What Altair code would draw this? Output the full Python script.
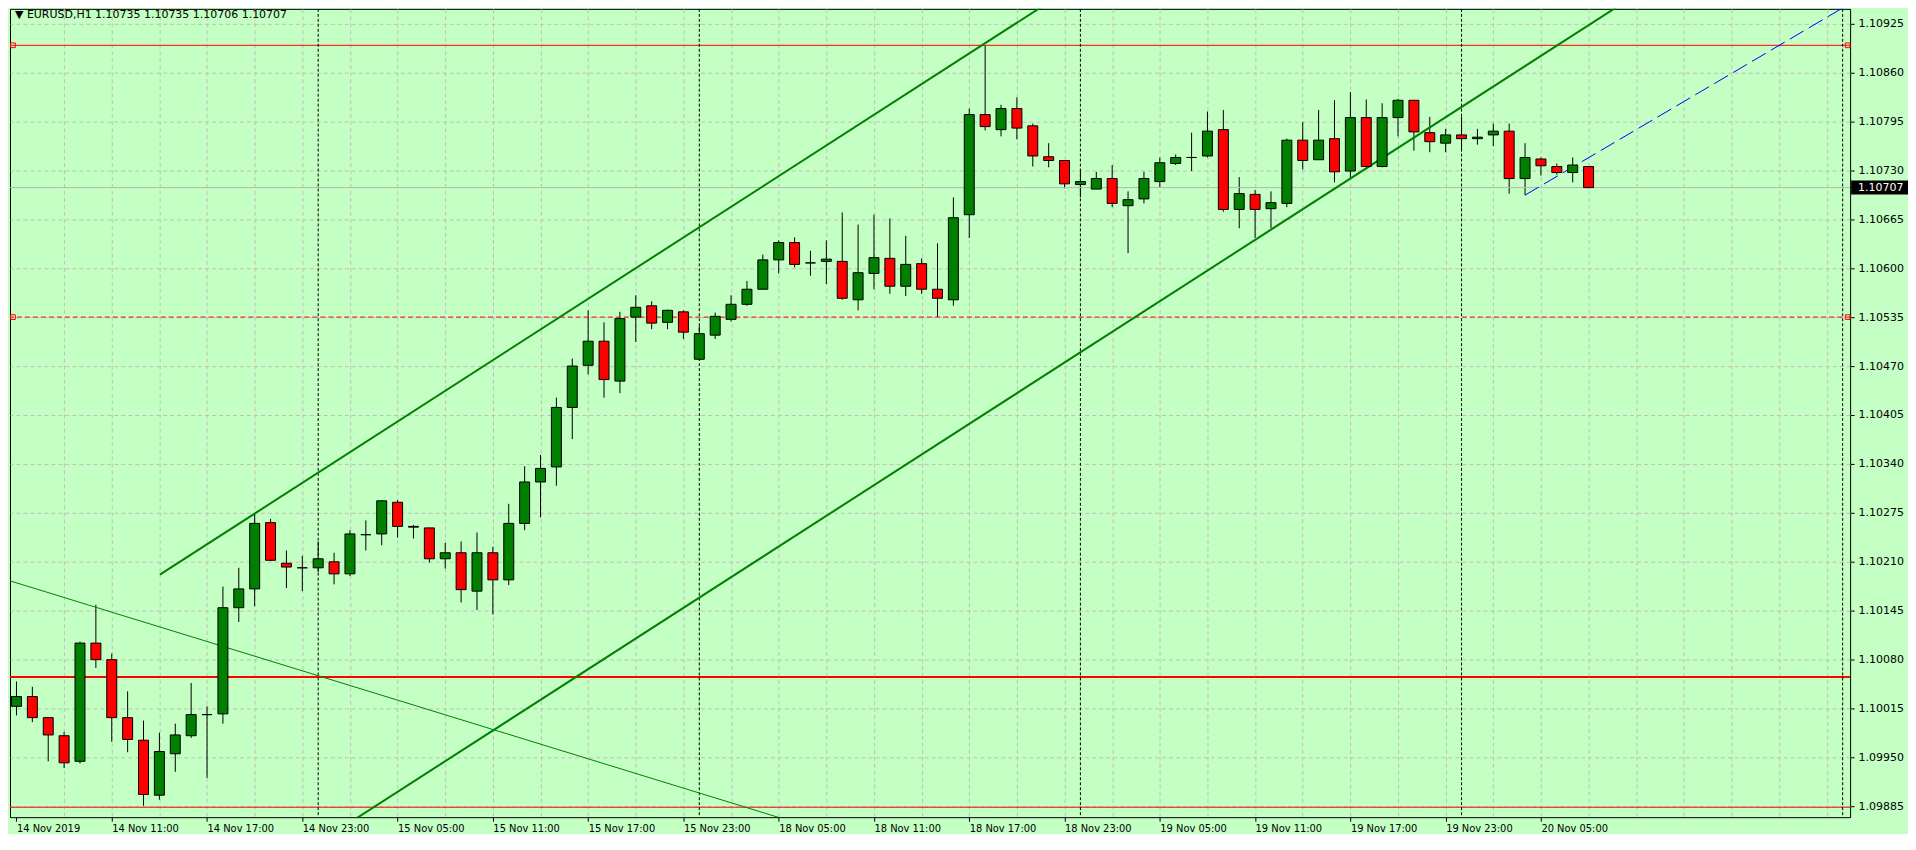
import json
import altair as alt
import pandas as pd

# ---------------- data (EURUSD H1) ----------------
opens = [1.10018, 1.10031, 1.10003, 1.09979, 1.09945, 1.10102, 1.10080, 1.10003, 1.09973, 1.09900,
         1.09955, 1.09979, 1.10007, 1.10008, 1.10149, 1.10174, 1.10262, 1.10208, 1.10202, 1.10202,
         1.10210, 1.10194, 1.10246, 1.10247, 1.10289, 1.10257, 1.10255, 1.10214, 1.10222, 1.10171,
         1.10222, 1.10186, 1.10261, 1.10316, 1.10336, 1.10415, 1.10471, 1.10503, 1.10450, 1.10535,
         1.10550, 1.10528, 1.10542, 1.10479, 1.10511, 1.10532, 1.10552, 1.10572, 1.10611, 1.10634,
         1.10607, 1.10609, 1.10609, 1.10558, 1.10593, 1.10613, 1.10576, 1.10606, 1.10572, 1.10558,
         1.10671, 1.10804, 1.10784, 1.10812, 1.10789, 1.10748, 1.10743, 1.10711, 1.10705, 1.10719,
         1.10683, 1.10692, 1.10715, 1.10739, 1.10747, 1.10749, 1.10784, 1.10678, 1.10698, 1.10679,
         1.10686, 1.10770, 1.10744, 1.10772, 1.10729, 1.10800, 1.10735, 1.10800, 1.10823, 1.10780,
         1.10766, 1.10777, 1.10772, 1.10777, 1.10782, 1.10719, 1.10745, 1.10735, 1.10727, 1.10735]

highs = [1.10051, 1.10044, 1.10004, 1.09984, 1.10104, 1.10153, 1.10088, 1.10038, 1.09999, 1.09983,
         1.09995, 1.10049, 1.10018, 1.10177, 1.10202, 1.10274, 1.10267, 1.10225, 1.10218, 1.10237,
         1.10222, 1.10252, 1.10265, 1.10292, 1.10292, 1.10259, 1.10255, 1.10235, 1.10237, 1.10249,
         1.10230, 1.10287, 1.10337, 1.10352, 1.10428, 1.10480, 1.10544, 1.10528, 1.10542, 1.10564,
         1.10556, 1.10545, 1.10544, 1.10523, 1.10541, 1.10564, 1.10583, 1.10618, 1.10637, 1.10641,
         1.10623, 1.10637, 1.10674, 1.10658, 1.10671, 1.10666, 1.10643, 1.10613, 1.10633, 1.10694,
         1.10812, 1.10896, 1.10817, 1.10827, 1.10792, 1.10766, 1.10743, 1.10729, 1.10728, 1.10737,
         1.10702, 1.10728, 1.10747, 1.10751, 1.10780, 1.10808, 1.10810, 1.10721, 1.10704, 1.10702,
         1.10772, 1.10794, 1.10810, 1.10823, 1.10834, 1.10824, 1.10819, 1.10825, 1.10823, 1.10801,
         1.10785, 1.10801, 1.10785, 1.10792, 1.10792, 1.10766, 1.10747, 1.10739, 1.10747, 1.10735]

lows = [1.10006, 1.09997, 1.09945, 1.09936, 1.09942, 1.10069, 1.09971, 1.09957, 1.09886, 1.09894,
        1.09931, 1.09976, 1.09923, 1.09995, 1.10130, 1.10151, 1.10211, 1.10175, 1.10171, 1.10196,
        1.10180, 1.10191, 1.10225, 1.10232, 1.10242, 1.10241, 1.10209, 1.10201, 1.10156, 1.10146,
        1.10140, 1.10179, 1.10252, 1.10269, 1.10311, 1.10373, 1.10459, 1.10428, 1.10434, 1.10502,
        1.10519, 1.10519, 1.10506, 1.10479, 1.10506, 1.10529, 1.10550, 1.10572, 1.10593, 1.10601,
        1.10590, 1.10579, 1.10558, 1.10544, 1.10572, 1.10566, 1.10563, 1.10566, 1.10535, 1.10550,
        1.10640, 1.10783, 1.10775, 1.10771, 1.10735, 1.10734, 1.10706, 1.10694, 1.10705, 1.10681,
        1.10620, 1.10686, 1.10707, 1.10737, 1.10729, 1.10747, 1.10675, 1.10653, 1.10640, 1.10653,
        1.10681, 1.10731, 1.10744, 1.10714, 1.10720, 1.10735, 1.10734, 1.10775, 1.10756, 1.10754,
        1.10754, 1.10756, 1.10764, 1.10762, 1.10699, 1.10697, 1.10723, 1.10724, 1.10714, 1.10706]

closes = [1.10031, 1.10003, 1.09980, 1.09943, 1.10102, 1.10080, 1.10003, 1.09974, 1.09901, 1.09958,
          1.09980, 1.10007, 1.10007, 1.10149, 1.10174, 1.10261, 1.10212, 1.10203, 1.10202, 1.10214,
          1.10194, 1.10247, 1.10246, 1.10291, 1.10257, 1.10256, 1.10214, 1.10222, 1.10173, 1.10222,
          1.10186, 1.10261, 1.10316, 1.10334, 1.10415, 1.10470, 1.10503, 1.10452, 1.10533, 1.10548,
          1.10527, 1.10544, 1.10515, 1.10513, 1.10536, 1.10552, 1.10572, 1.10611, 1.10634, 1.10605,
          1.10607, 1.10612, 1.10560, 1.10594, 1.10614, 1.10576, 1.10605, 1.10572, 1.10560, 1.10667,
          1.10804, 1.10788, 1.10812, 1.10786, 1.10749, 1.10743, 1.10712, 1.10715, 1.10719, 1.10686,
          1.10691, 1.10719, 1.10740, 1.10747, 1.10747, 1.10782, 1.10678, 1.10699, 1.10678, 1.10687,
          1.10770, 1.10743, 1.10770, 1.10728, 1.10800, 1.10735, 1.10800, 1.10823, 1.10781, 1.10768,
          1.10777, 1.10772, 1.10774, 1.10782, 1.10719, 1.10747, 1.10736, 1.10727, 1.10737, 1.10707]

time_labels = ["14 Nov 2019", "14 Nov 11:00", "14 Nov 17:00", "14 Nov 23:00", "15 Nov 05:00",
               "15 Nov 11:00", "15 Nov 17:00", "15 Nov 23:00", "18 Nov 05:00", "18 Nov 11:00",
               "18 Nov 17:00", "18 Nov 23:00", "19 Nov 05:00", "19 Nov 11:00", "19 Nov 17:00",
               "19 Nov 23:00", "20 Nov 05:00"]
label_every = 6          # bars between time labels
grid_every = 3           # bars between vertical grid lines
day_separators = [19, 43, 67, 91, 115]   # bar index of each 00:00

price_ticks = [1.09885, 1.09950, 1.10015, 1.10080, 1.10145, 1.10210, 1.10275, 1.10340, 1.10405,
               1.10470, 1.10535, 1.10600, 1.10665, 1.10730, 1.10795, 1.10860, 1.10925]

level_thin = [1.10896, 1.09884]
level_dashed = [1.10535]
level_thick = [1.10057]
marked_levels = [1.10896, 1.10535]

upper_channel_bar = [9.03, 70.0]
upper_channel_price = [1.10193, 1.11021]
lower_channel_bar = [18.0, 110.0]
lower_channel_price = [1.09823, 1.11072]
down_line_bar = [-2.0, 55.0]
down_line_price = [1.10195, 1.09825]
blue_line_bar = [95.0, 116.0]
blue_line_price = [1.10697, 1.10958]

current_price = 1.10707
header = "\u25BC EURUSD,H1  1.10735 1.10735 1.10706 1.10707"

# ---------------- layout / styles ----------------
W, H = 1844, 810
BG = "#C4FFC4"
GRID = "#bfbfbf"
UP, DOWN = "#008000", "#ff0000"
FONT = "DejaVu Sans"

xs = alt.Scale(domain=[-0.09375, 115.15625], nice=False, zero=False)
ys = alt.Scale(domain=[1.098708, 1.109444], nice=False, zero=False)

n = len(opens)
df = pd.DataFrame({"i": list(range(n)), "open": opens, "high": highs, "low": lows, "close": closes})
df["dir"] = ["up" if c >= o else "down" for o, c in zip(opens, closes)]

label_test = f"datum.value % {label_every} == 0 && datum.value <= {(len(time_labels) - 1) * label_every}"
x_axis = alt.Axis(
    orient="bottom", values=list(range(0, 115, grid_every)),
    labelExpr=f"{label_test} ? {json.dumps(time_labels)}[datum.value / {label_every}] : ''",
    grid=True, gridColor=GRID, gridDash=[4, 3], gridWidth=1,
    gridOpacity={"condition": {"test": "datum.value > 0", "value": 1}, "value": 0},
    domain=False, ticks=True, tickSize=4, tickColor="black",
    tickOpacity={"condition": {"test": label_test, "value": 1}, "value": 0},
    labelAlign="left", labelBaseline="top", labelPadding=1,
    labelFont="DejaVu Sans Condensed", labelFontSize=11, labelColor="black",
    labelOverlap=False, labelFlush=False, labelBound=False, title=None,
)
y_axis = alt.Axis(
    orient="right", values=price_ticks, format=".5f",
    grid=True, gridColor=GRID, gridDash=[4, 3], gridWidth=1,
    domain=False, tickSize=4, tickColor="black",
    labelFont=FONT, labelFontSize=11, labelColor="black", labelPadding=4,
    labelOverlap=False, labelBound=False, title=None,
)


def X(field):
    return alt.X(field, scale=xs, axis=x_axis, title=None)


def Y(field):
    return alt.Y(field, scale=ys, axis=y_axis, title=None)


base = alt.Chart(df)

wicks = base.mark_rule(color="black", strokeWidth=1, clip=True).encode(
    x=X("i:Q"), y=Y("low:Q"), y2="high:Q",
)
bodies = base.mark_bar(size=10, stroke="black", strokeWidth=1, clip=True).encode(
    x=X("i:Q"), y=Y("open:Q"), y2="close:Q",
    color=alt.Color("dir:N", scale=alt.Scale(domain=["up", "down"], range=[UP, DOWN]), legend=None),
)


def hrule(levels, **kw):
    return alt.Chart(pd.DataFrame({"p": levels})).mark_rule(clip=True, **kw).encode(y=Y("p:Q"))


bid_line = hrule([current_price], color="#b4b4b4", strokeWidth=1)
red_thin = hrule(level_thin, color="#ff0000", strokeWidth=1)
red_dashed = hrule(level_dashed, color="#ff0000", strokeWidth=1, strokeDash=[5, 3])
red_thick = hrule(level_thick, color="#ff0000", strokeWidth=2)

markers = []
for xv in (3, W - 2.5):
    markers.append(
        alt.Chart(pd.DataFrame({"p": marked_levels})).mark_point(
            shape="square", filled=False, size=22, color="#ff0000", strokeWidth=1, opacity=1
        ).encode(x=alt.value(xv), y=Y("p:Q"))
    )


def tline(bars, prices, **kw):
    return alt.Chart(pd.DataFrame({"b": bars, "p": prices})).mark_line(clip=True, **kw).encode(
        x=X("b:Q"), y=Y("p:Q"))


upper = tline(upper_channel_bar, upper_channel_price, color=UP, strokeWidth=2)
lower = tline(lower_channel_bar, lower_channel_price, color=UP, strokeWidth=2)
down = tline(down_line_bar, down_line_price, color=UP, strokeWidth=1)
blue = tline(blue_line_bar, blue_line_price, color="#0000ff", strokeWidth=1, strokeDash=[16, 6])

sep = alt.Chart(pd.DataFrame({"b": day_separators})).mark_rule(
    color="black", strokeWidth=1, strokeDash=[3, 2], clip=True
).encode(x=X("b:Q"))

# current price box on the price axis
half = 7 * (ys.domain[1] - ys.domain[0]) / H
box_df = pd.DataFrame({"p": [current_price], "top": [current_price + half],
                       "bot": [current_price - half], "lab": [f"{current_price:.5f}"]})
price_box = alt.Chart(box_df).mark_rect(color="black").encode(
    x=alt.value(W + 1), x2=alt.value(W + 58), y=Y("top:Q"), y2="bot:Q")
price_txt = alt.Chart(box_df).mark_text(
    color="white", align="left", baseline="middle", font=FONT, fontSize=11
).encode(x=alt.value(W + 8), y=Y("p:Q"), text="lab:N")

head = alt.Chart(pd.DataFrame({"t": [header]})).mark_text(
    align="left", baseline="alphabetic", font=FONT, fontSize=11, color="black"
).encode(x=alt.value(5), y=alt.value(9), text="t:N")

chart = alt.layer(
    wicks, bid_line, red_dashed, red_thin, red_thick, sep, down, upper, lower, blue,
    bodies, *markers, price_box, price_txt, head
).properties(
    width=W, height=H, padding={"left": 0, "top": 0, "right": 0, "bottom": 0}
).configure(
    background=BG
).configure_view(
    stroke="black", strokeWidth=1
)

chart.save("out.html", embed_options={"renderer": "svg", "actions": False})
